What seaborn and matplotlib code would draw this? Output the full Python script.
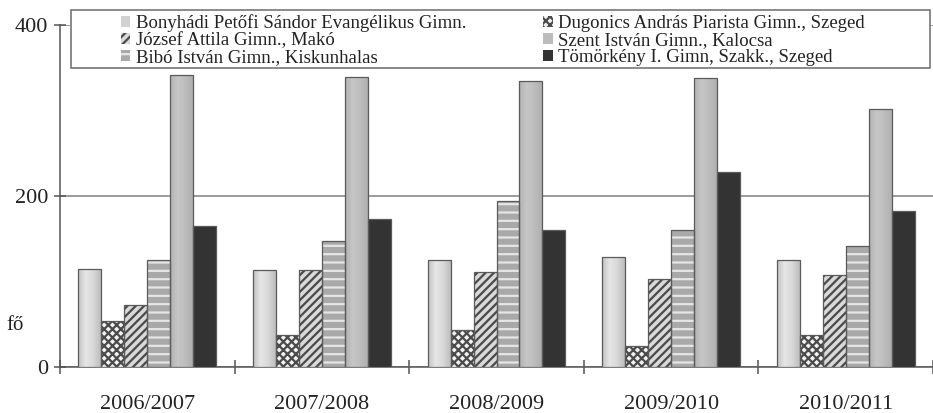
import matplotlib
matplotlib.use("Agg")
import matplotlib.pyplot as plt
from matplotlib.patches import Patch, Rectangle
from matplotlib.colors import LinearSegmentedColormap
import numpy as np
import pandas as pd
import seaborn as sns

# Enrolment (fő) per school year
years = ["2006/2007", "2007/2008", "2008/2009", "2009/2010", "2010/2011"]
schools = [
    "Bonyhádi Petőfi Sándor Evangélikus Gimn.",
    "Dugonics András Piarista Gimn., Szeged",
    "József Attila Gimn., Makó",
    "Bibó István Gimn., Kiskunhalas",
    "Szent István Gimn., Kalocsa",
    "Tömörkény I. Gimn, Szakk., Szeged",
]
bonyhad = [115, 113, 125, 129, 125]
dugonics = [54, 37, 43, 24, 37]
jozsef_attila = [72, 113, 111, 103, 108]
bibo = [125, 147, 194, 160, 141]
szent_istvan = [341, 339, 335, 338, 302]
tomorkeny = [165, 173, 160, 228, 182]
series = [bonyhad, dugonics, jozsef_attila, bibo, szent_istvan, tomorkeny]

# fill colour, hatch, hatch colour for each school
faces = ["#d2d2d2", "#f2f2f2", "#d9d9d9", "#a9a9a9", "#bcbcbc", "#333333"]
hatches = [None, "xxxx", "////", "--", None, None]
hatch_cols = ["#d2d2d2", "#4a4a4a", "#4a4a4a", "#e6e6e6", "#bcbcbc", "#333333"]
outline = "#5a5a5a"

# horizontal shading across the plain bars
shading = {
    0: LinearSegmentedColormap.from_list(
        "shade0", ["#c2c2c2", "#e6e6e6", "#d8d8d8", "#bdbdbd"]),
    4: LinearSegmentedColormap.from_list(
        "shade4", ["#b2b2b2", "#c6c6c6", "#bdbdbd", "#b0b0b0"]),
}

df = pd.DataFrame(
    [(y, s, v) for s, vals in zip(schools, series) for y, v in zip(years, vals)],
    columns=["év", "iskola", "fő"],
)

sns.set_style("white")
plt.rcParams["font.family"] = ["Liberation Serif", "DejaVu Serif"]
plt.rcParams["hatch.linewidth"] = 1.6

fig = plt.figure(figsize=(9.33, 4.13), dpi=100)
ax = fig.add_axes([60 / 933, 46 / 413, 873 / 933, 342 / 413])

sns.barplot(
    data=df, x="év", y="fő", hue="iskola", hue_order=schools, order=years,
    palette=dict(zip(schools, faces)), saturation=1, width=0.79, gap=0,
    errorbar=None, legend=False, ax=ax, zorder=3,
)

ramp = np.linspace(0, 1, 64)[np.newaxis, :]
for k, (cont, hatch, hc) in enumerate(zip(ax.containers, hatches, hatch_cols)):
    for p in cont.patches:
        p.set_edgecolor(hc)
        p.set_linewidth(0)
        if hatch:
            p.set_hatch(hatch)
        x0, w, h = p.get_x(), p.get_width(), p.get_height()
        if k in shading:
            im = ax.imshow(ramp, cmap=shading[k], aspect="auto",
                           extent=[x0, x0 + w, 0, h], interpolation="bilinear",
                           zorder=3.5)
            im.set_clip_path(p)
        ax.add_patch(Rectangle(p.get_xy(), w, h, fill=False, ec=outline,
                               lw=0.9, zorder=4))

ax.set_ylim(0, 400)
ax.set_xlim(-0.5, len(years) - 0.5)
ax.set_yticks([0, 200, 400])
ax.yaxis.grid(True, color="#8a8a8a", lw=1.2, zorder=0)
ax.set_axisbelow(True)
ax.set_xlabel("")
ax.set_ylabel("")
for side in ["top", "right"]:
    ax.spines[side].set_visible(False)
for side in ["left", "bottom"]:
    ax.spines[side].set_color("#555555")
    ax.spines[side].set_linewidth(1.1)

ax.tick_params(axis="y", direction="inout", length=9, width=1.1, color="#555555",
               labelsize=16, labelcolor="#222222", pad=4, left=True)
ax.tick_params(axis="x", which="major", length=0, labelsize=16,
               labelcolor="#222222", pad=20)
ax.set_xticks([i - 0.5 for i in range(len(years) + 1)], minor=True)
ax.tick_params(axis="x", which="minor", direction="inout", length=10, width=1.1,
               color="#555555", bottom=True)

fig.text(15 / 933, 1 - 325 / 413, "fő", fontsize=15, color="#222222",
         ha="center", va="center")

# legend box
fig.patches.append(Rectangle((71 / 933, 1 - 68 / 413), 859 / 933, 58 / 413,
                             transform=fig.transFigure, facecolor="white",
                             edgecolor="#777777", lw=1.2, zorder=1))

order = [0, 2, 3, 1, 4, 5]
handles = [Patch(facecolor=faces[i], edgecolor=hatch_cols[i], hatch=hatches[i], lw=0)
           for i in order]
labels = [schools[i] for i in order]
fig.legend(handles, labels, ncol=2, loc="center",
           bbox_to_anchor=(493 / 933, 1 - 40 / 413), frameon=False,
           fontsize=13.5, handlelength=0.5, handleheight=0.5, handletextpad=0.3,
           columnspacing=4.1, labelspacing=0.0, borderpad=0,
           labelcolor="#222222")

fig.savefig("out.png", dpi=100)
